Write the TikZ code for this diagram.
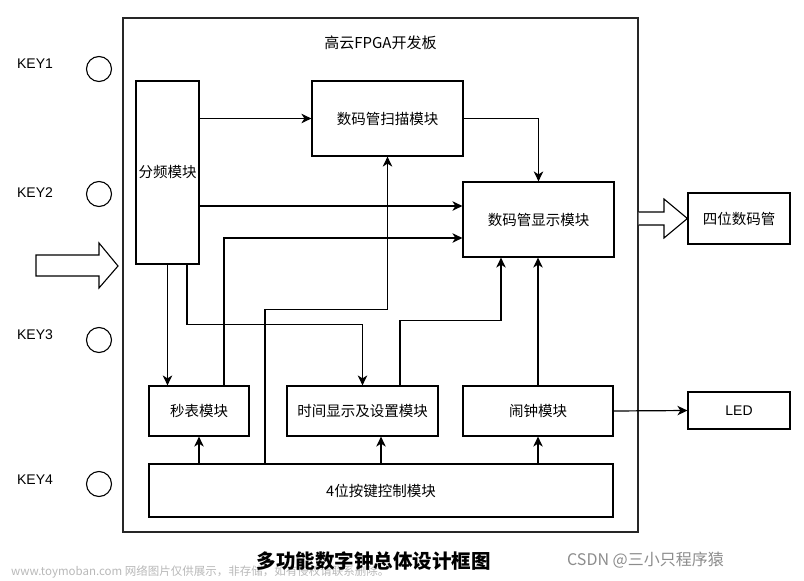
\documentclass[tikz,border=0pt]{standalone}
\usepackage{fontspec}
\setmainfont{Liberation Sans}
\newfontfamily\cjk{Noto Sans CJK SC}
\usetikzlibrary{arrows.meta,calc}
\begin{document}
\begin{tikzpicture}[x=1pt,y=-1pt,
  box/.style={draw=black,line width=1.2pt,fill=white,inner sep=0pt,font=\cjk\fontsize{14.5}{16}\selectfont},
  lbl/.style={inner sep=0pt,font=\fontsize{14}{16}\selectfont},
  arr/.style={line width=1.2pt,-{Stealth[length=10pt,width=9.5pt,inset=3pt]}},
  keyc/.style={draw=black,line width=1.1pt,circle,minimum size=25pt,inner sep=0pt},
  bigarrow/.style={draw=black,line width=1.1pt,fill=white,line join=miter}]
\useasboundingbox (0,0) rectangle (804,581);
% board
\node[draw=black!85,line width=1.3pt,minimum width=515pt,minimum height=514pt,inner sep=0pt] (board) at (380.5,275) {};
\node[inner sep=0pt,font=\cjk\fontsize{15}{17}\selectfont] (btitle) at (380.5,43) {高云FPGA开发板};
% keys
\node[lbl] (k1l) at (35,64) {KEY1};
\node[lbl] (k2l) at (35,193) {KEY2};
\node[lbl] (k3l) at (35,335) {KEY3};
\node[lbl] (k4l) at (35,480) {KEY4};
\node[keyc] (k1c) at (99,69) {};
\node[keyc] (k2c) at (99,194) {};
\node[keyc] (k3c) at (99,340) {};
\node[keyc] (k4c) at (99,484) {};
% input arrow
\coordinate (ina) at (36,255);
\coordinate (intip) at (118,266);
\draw[bigarrow] (ina) -- (99,255) -- (99,243) -- (intip) -- (99,288) -- (99,276) -- (36,276) -- cycle;
% boxes
\node[box,minimum width=63pt,minimum height=183pt] (div) at (167.5,172.5) {分频模块};
\node[box,minimum width=151pt,minimum height=75pt] (scan) at (387.5,118.5) {数码管扫描模块};
\node[box,minimum width=151pt,minimum height=75pt] (disp) at (538.5,219.5) {数码管显示模块};
\node[box,minimum width=102pt,minimum height=51pt] (seg) at (739,218.5) {四位数码管};
\node[box,minimum width=100pt,minimum height=50pt] (stop) at (199,411) {秒表模块};
\node[box,minimum width=151pt,minimum height=50pt] (time) at (362.5,411) {时间显示及设置模块};
\node[box,minimum width=150pt,minimum height=50pt] (alarm) at (538,411) {闹钟模块};
\node[box,minimum width=464pt,minimum height=53pt] (key) at (381,490.5) {4位按键控制模块};
\node[box,minimum width=102pt,minimum height=37pt,font=\fontsize{14}{16}\selectfont] (led) at (739,410.5) {LED};
% connectors
\coordinate (d1) at ([yshift=13.5pt]disp.west);
\coordinate (d2) at ([yshift=-18.5pt]disp.west);
\draw[arr] (div.east |- scan.west) -- (scan.west);
\draw[arr] (div.east |- d1) -- (d1);
\draw[arr] ([xshift=25pt]stop.north) |- (d2);
\draw[arr] (scan.east) -| (disp.north);
\draw[arr] ([xshift=-116pt]key.north) -- ++(0,-154) -| (scan.south);
\draw[arr] (div.south) -- (div.south |- stop.north);
\draw[arr] ([xshift=19.5pt]div.south) -- ++(0,60) -| (time.north);
\draw[arr] ([xshift=37.5pt]time.north) -- ++(0,-65) -| ([xshift=-37.5pt]disp.south);
\draw[arr] (alarm.north) -- (alarm.north |- disp.south);
\draw[arr] (stop.south |- key.north) -- (stop.south);
\draw[arr] (key.north) -- (key.north |- time.south);
\draw[arr] (alarm.south |- key.north) -- (alarm.south);
\draw[arr] (alarm.east) -- (led.west);
% output arrow
\coordinate (oa) at (board.east |- 0,212);
\draw[bigarrow] (oa) -- (664,212) -- (664,199) -- (seg.west) -- (664,238) -- (664,225) -- (board.east |- 0,225);
% caption and watermarks
\node[inner sep=0pt,anchor=west,text=black!28,font=\cjk\fontsize{11.5}{13}\selectfont] (wm) at (11,572) {www.toymoban.com 网络图片仅供展示，非存储，如有侵权请联系删除。};
\node[inner sep=0pt,font=\cjk\bfseries\fontsize{19.5}{22}\selectfont] (cap) at (373.5,561) {多功能数字钟总体设计框图};
\node[inner sep=0pt,anchor=west,text=black!45,font=\cjk\fontsize{16}{18}\selectfont] (csdn) at (567,560) {CSDN @三小只程序猿};
\end{tikzpicture}
\end{document}
